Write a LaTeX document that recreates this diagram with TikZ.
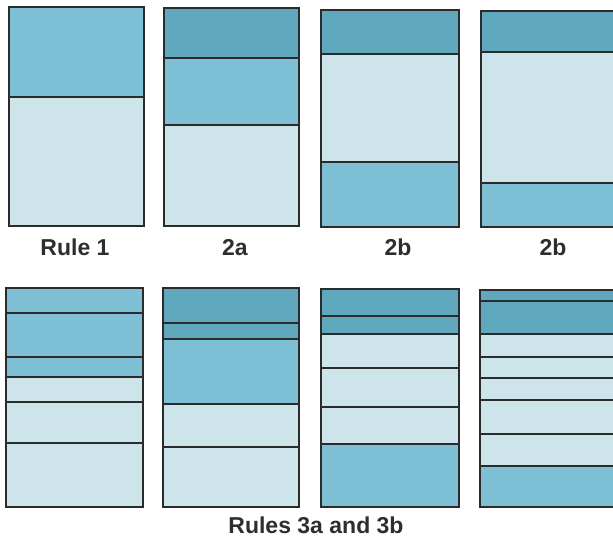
\documentclass[tikz,border=0pt]{standalone}
\usepackage{fontspec}
\setmainfont{Liberation Sans}
\usepackage{tikz}
\definecolor{bandDark}{HTML}{5FA8BE}
\definecolor{bandMid}{HTML}{7DBFD4}
\definecolor{bandLight}{HTML}{CDE4EA}
\definecolor{edge}{HTML}{2B2B2B}
\definecolor{caption}{HTML}{2E2E2E}
\begin{document}
\begin{tikzpicture}[
    x=1pt, y=-1pt,
    dark/.style={fill=bandDark},
    mid/.style={fill=bandMid},
    light/.style={fill=bandLight},
    rim/.style={draw=edge, line width=2.6pt},
    sep/.style={draw=edge, line width=2.1pt},
    lbl/.style={anchor=base, text=caption, font=\fontsize{23}{26}\selectfont\bfseries},
]
\useasboundingbox (0,0) rectangle (613,539);
\clip (0,0) rectangle (613,539);

% top row
\fill[mid] (9,7) rectangle (144,97);
\fill[light] (9,97) rectangle (144,226);
\draw[sep] (9,97) -- (144,97);
\draw[rim] (9,7) rectangle (144,226);

\fill[dark] (164,8) rectangle (299,58);
\fill[mid] (164,58) rectangle (299,125);
\fill[light] (164,125) rectangle (299,226);
\foreach \y in {58,125} \draw[sep] (164,\y) -- (299,\y);
\draw[rim] (164,8) rectangle (299,226);

\fill[dark] (321,10) rectangle (459,54);
\fill[light] (321,54) rectangle (459,162);
\fill[mid] (321,162) rectangle (459,227);
\foreach \y in {54,162} \draw[sep] (321,\y) -- (459,\y);
\draw[rim] (321,10) rectangle (459,227);

\fill[dark] (481,11) rectangle (620,52);
\fill[light] (481,52) rectangle (620,183);
\fill[mid] (481,183) rectangle (620,227);
\foreach \y in {52,183} \draw[sep] (481,\y) -- (620,\y);
\draw[rim] (481,11) rectangle (620,227);

\node[lbl] (ruleone) at (75,255) {Rule 1};
\node[lbl] (twoa) at (235,255) {2a};
\node[lbl] (twob) at (398,255) {2b};
\node[lbl] (twobb) at (553,255) {2b};

% bottom row
\fill[mid] (6,288) rectangle (143,377);
\fill[light] (6,377) rectangle (143,507);
\foreach \y in {313,357,377,402,443} \draw[sep] (6,\y) -- (143,\y);
\draw[rim] (6,288) rectangle (143,507);

\fill[dark] (163,288) rectangle (299,339);
\fill[mid] (163,339) rectangle (299,404);
\fill[light] (163,404) rectangle (299,507);
\foreach \y in {323,339,404,447} \draw[sep] (163,\y) -- (299,\y);
\draw[rim] (163,288) rectangle (299,507);

\fill[dark] (321,289) rectangle (459,334);
\fill[light] (321,334) rectangle (459,444);
\fill[mid] (321,444) rectangle (459,507);
\foreach \y in {316,334,368,407,444} \draw[sep] (321,\y) -- (459,\y);
\draw[rim] (321,289) rectangle (459,507);

\fill[dark] (480,290) rectangle (620,334);
\fill[light] (480,334) rectangle (620,466);
\fill[mid] (480,466) rectangle (620,507);
\foreach \y in {301,334,357,378,400,434,466} \draw[sep] (480,\y) -- (620,\y);
\draw[rim] (480,290) rectangle (620,507);

\node[lbl] (rulesthree) at (316,533) {Rules 3a and 3b};
\end{tikzpicture}
\end{document}
